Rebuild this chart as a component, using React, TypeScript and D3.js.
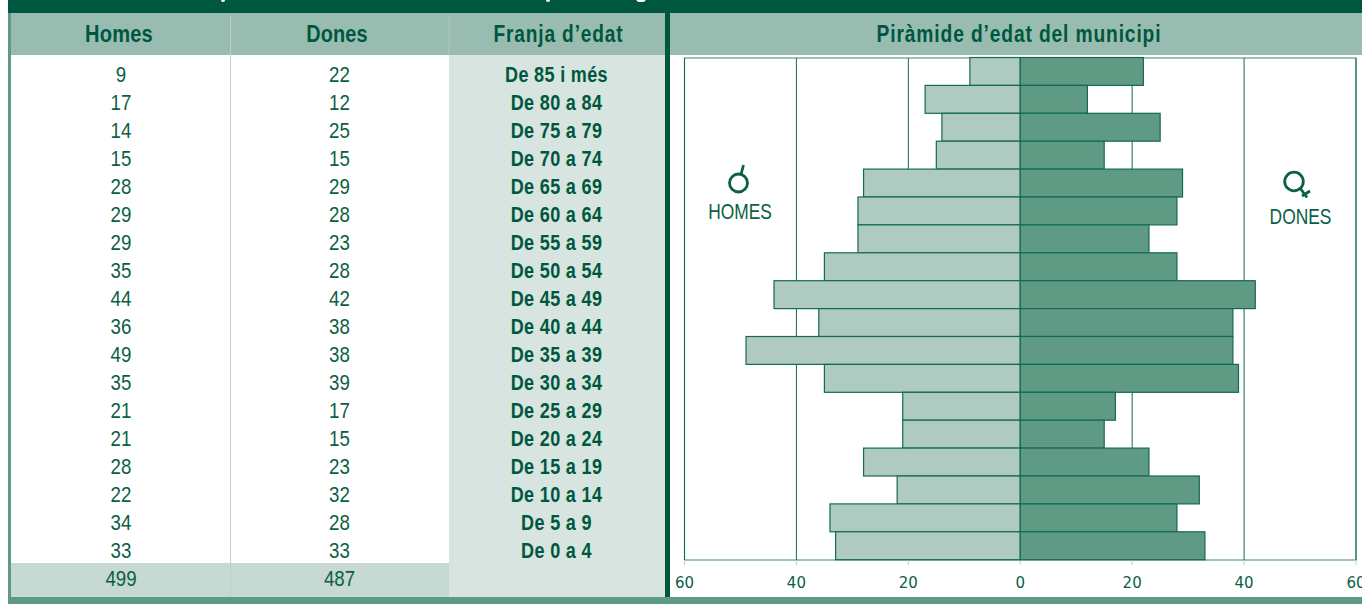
import React from "react";
import * as d3 from "d3";

const ageBands = ["De 85 i més","De 80 a 84","De 75 a 79","De 70 a 74","De 65 a 69","De 60 a 64","De 55 a 59","De 50 a 54","De 45 a 49","De 40 a 44","De 35 a 39","De 30 a 34","De 25 a 29","De 20 a 24","De 15 a 19","De 10 a 14","De 5 a 9","De 0 a 4"];
const men = [9,17,14,15,28,29,29,35,44,36,49,35,21,21,28,22,34,33];
const women = [22,12,25,15,29,28,23,28,42,38,38,39,17,15,23,32,28,33];
const totals = [499, 487];
const headers = ["Homes","Dones","Franja d’edat","Piràmide d’edat del municipi"];
const tickLabels = [60,40,20,0,20,40,60];
const tickSigned = [-60,-40,-20,0,20,40,60];

const DARK = "#00573f", MID = "#5f9a85", HEAD = "#98bdb0", PALE = "#d7e4df", TOTAL = "#c6d9d3", LIGHTBAR = "#afcac1", TEXT = "#0b5f45", LINE = "#146a50";
const FONT = "'Liberation Sans',sans-serif";

const x = d3.scaleLinear().domain([-60, 60]).range([684.5, 1356]);
const y = d3.scaleBand().domain(ageBands).range([57.5, 559.7]);
const rowY = d3.scalePoint().domain(ageBands).range([75, 551]);

function Narrow({ cx, base, sx, size, bold, fill, spacing, children }: any) {
  return (
    <text
      transform={`translate(${cx},${base}) scale(${sx},1)`}
      textAnchor="middle"
      fontFamily={FONT}
      fontSize={size}
      fontWeight={bold ? 700 : 400}
      letterSpacing={spacing || 0}
      fill={fill}
    >
      {children}
    </text>
  );
}

export default function App() {
  const x0 = x(0);
  return (
    <svg width={1362} height={604} style={{ position: "absolute", left: 0, top: 0, display: "block" }}>
      <rect width={1362} height={604} fill="#fff" />
      <rect x={8} y={0} width={1354} height={13} fill={DARK} />
      <circle cx={223} cy={0} r={2} fill="#fff" />
      <circle cx={548} cy={0} r={2} fill="#fff" />
      <ellipse cx={641} cy={0} rx={4.5} ry={2} fill="#fff" />
      <rect x={8} y={13} width={1354} height={42} fill={HEAD} />
      <rect x={449} y={55} width={216} height={542} fill={PALE} />
      <rect x={11} y={563} width={438} height={34} fill={TOTAL} />
      <rect x={8} y={13} width={3} height={591} fill={MID} />
      <line x1={230.5} x2={230.5} y1={15} y2={597} stroke="#b9d2c9" strokeWidth={1} />
      <line x1={449} x2={449} y1={15} y2={55} stroke="#aac9bd" strokeWidth={1} />
      <rect x={665} y={13} width={5} height={584} fill={DARK} />
      <rect x={8} y={597} width={1354} height={7} fill={MID} />

      {headers.map((h, i) => (
        <Narrow key={h} cx={[119, 337, 558.5, 1019][i]} base={42} sx={[0.82, 0.81, 0.78, 0.785][i]} size={24.5} bold spacing={i > 1 ? 1.1 : 0.2} fill={DARK}>{h}</Narrow>
      ))}

      {ageBands.map((b, i) => (
        <g key={b}>
          <Narrow cx={121} base={rowY(b)! + 7.2} sx={0.85} size={22} fill={TEXT}>{men[i]}</Narrow>
          <Narrow cx={339.5} base={rowY(b)! + 7.2} sx={0.85} size={22} fill={TEXT}>{women[i]}</Narrow>
          <Narrow cx={556.5} base={rowY(b)! + 7.2} sx={0.82} size={22} bold spacing={0.4} fill={DARK}>{b}</Narrow>
        </g>
      ))}
      <Narrow cx={121} base={586} sx={0.85} size={22} fill={TEXT}>{totals[0]}</Narrow>
      <Narrow cx={339.5} base={586} sx={0.85} size={22} fill={TEXT}>{totals[1]}</Narrow>

      <rect x={x(-60)} y={58} width={x(60) - x(-60)} height={502} fill="none" stroke={MID} strokeWidth={1.2} />
      {tickSigned.map((t) => (
        <line key={t} x1={x(t)} x2={x(t)} y1={58} y2={560} stroke={LINE} strokeWidth={1} />
      ))}
      {tickSigned.map((t) => (
        <line key={"m" + t} x1={x(t)} x2={x(t)} y1={560} y2={565} stroke="#b9d2c9" strokeWidth={1} />
      ))}

      {ageBands.map((b, i) => (
        <g key={b} stroke={LINE} strokeWidth={1.2}>
          <rect x={x(-men[i])} y={y(b)} width={x0 - x(-men[i])} height={y.bandwidth()} fill={LIGHTBAR} />
          <rect x={x0} y={y(b)} width={x(women[i]) - x0} height={y.bandwidth()} fill={MID} />
        </g>
      ))}

      {tickSigned.map((t, i) => (
        <text key={"t" + t} x={x(t)} y={588} textAnchor="middle" fontFamily="'DejaVu Sans',sans-serif" fontSize={15} fill={TEXT}>{tickLabels[i]}</text>
      ))}

      <g fill="none" stroke={TEXT} strokeWidth={2.8}>
        <circle cx={738.5} cy={183} r={9} />
        <line x1={741} x2={743.5} y1={174.5} y2={165} />
        <circle cx={1294} cy={181.5} r={9.3} />
        <line x1={1300} x2={1307} y1={188} y2={197.5} />
        <line x1={1302} x2={1310} y1={196} y2={191} />
      </g>
      <Narrow cx={740} base={218.5} sx={0.79} size={22} fill={TEXT}>HOMES</Narrow>
      <Narrow cx={1300.5} base={224} sx={0.79} size={22} fill={TEXT}>DONES</Narrow>
    </svg>
  );
}
